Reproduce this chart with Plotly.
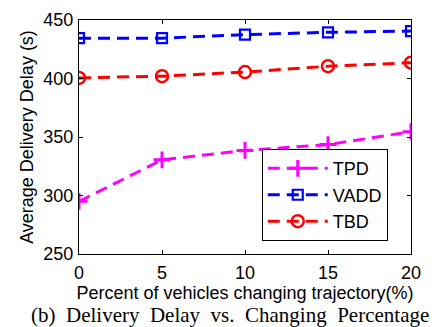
import plotly.graph_objects as go

x = [0, 5, 10, 15, 20]
tpd = [295, 330.5, 338.5, 343.5, 354.5]
vadd = [434.5, 434.5, 437.5, 439.5, 440.5]
tbd = [400.5, 402, 405.5, 410.5, 413.5]

xticks = [0, 5, 10, 15, 20]
yticks = [250, 300, 350, 400, 450]

caption_words = ["(b)", "Delivery", "Delay", "vs.", "Changing", "Percentage"]

DASH = "12px,7px"
fig = go.Figure()
fig.add_trace(go.Scatter(x=x, y=tpd, name="TPD", mode="lines+markers",
                         line=dict(color="#FF00FF", width=3, dash=DASH),
                         marker=dict(symbol="cross-thin-open", size=12, line=dict(color="#FF00FF", width=3))))
fig.add_trace(go.Scatter(x=x, y=vadd, name="VADD", mode="lines+markers",
                         line=dict(color="#0000FF", width=3, dash=DASH),
                         marker=dict(symbol="square-open", size=10, color="#0000FF", line=dict(width=2.2))))
fig.add_trace(go.Scatter(x=x, y=tbd, name="TBD", mode="lines+markers",
                         line=dict(color="#FF0000", width=3, dash=DASH),
                         marker=dict(symbol="circle-open", size=12, color="#FF0000", line=dict(width=2.5))))

FONT = "Liberation Sans, Arial"
axis_common = dict(showgrid=False, zeroline=False, showline=True, linecolor="black", linewidth=1.2,
                   mirror="ticks", ticks="inside", ticklen=4, tickcolor="black",
                   tickfont=dict(family=FONT, size=18, color="black"))

fig.update_layout(
    width=439, height=327,
    margin=dict(l=79, r=28, t=10, b=73),
    paper_bgcolor="white", plot_bgcolor="white",
    xaxis=dict(range=[0, 20], tickvals=xticks, ticklabelstandoff=2,
               title=dict(text="Percent of vehicles changing trajectory(%)", standoff=3,
                          font=dict(family=FONT, size=18, color="black")),
               **axis_common),
    yaxis=dict(range=[250, 450], tickvals=yticks, ticklabelstandoff=1,
               title=dict(text="Average Delivery Delay (s)", standoff=4,
                          font=dict(family=FONT, size=18, color="black")),
               **axis_common),
    legend=dict(x=0.93, xanchor="right", y=0.055, yanchor="bottom",
                bordercolor="black", borderwidth=1, bgcolor="white",
                font=dict(family=FONT, size=18, color="black"),
                itemwidth=60, tracegroupgap=0),
    showlegend=True,
)
fig.add_annotation(text="&nbsp; ".join(caption_words), xref="paper", yref="paper",
                   x=0.455, y=0, yshift=-47, xanchor="center", yanchor="top", showarrow=False,
                   font=dict(family="Liberation Serif, Times New Roman", size=21, color="black"))

fig.write_html("out.html")
